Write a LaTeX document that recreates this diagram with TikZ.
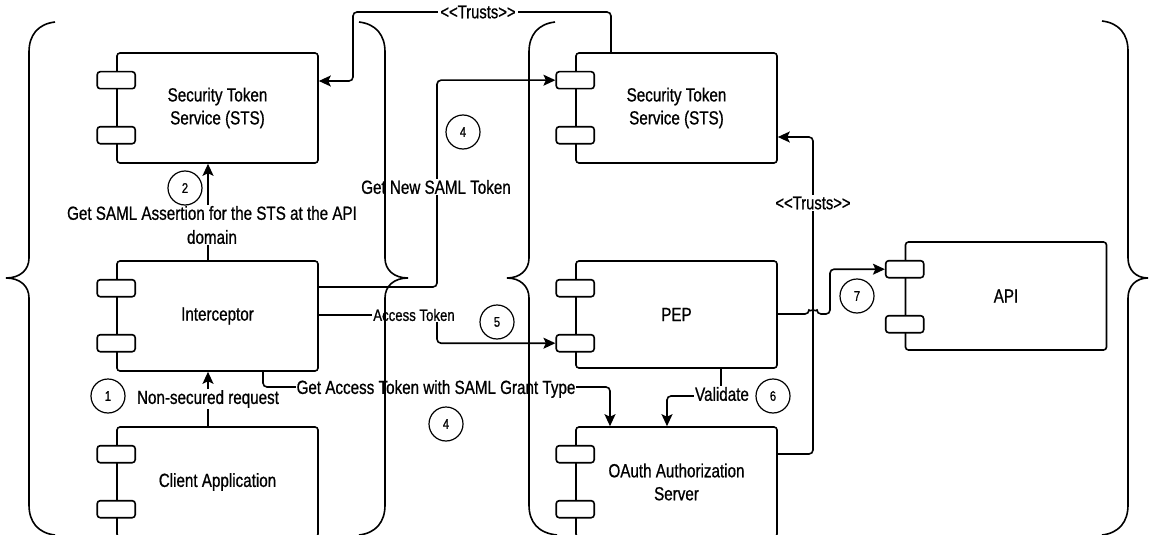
\documentclass[tikz,border=0pt]{standalone}
\usepackage{fontspec}
\setmainfont{Liberation Sans}[FakeStretch=0.8,FakeBold=0.8]
\usetikzlibrary{arrows.meta}
\tikzset{
  comp/.style={draw, line width=1.6pt, rounded corners=3pt, minimum width=201pt, minimum height=110pt, align=center, inner sep=0pt, font=\fontsize{19}{23}\selectfont},
  tabbox/.style={draw, line width=1.6pt, rounded corners=3pt, fill=white, minimum width=38pt, minimum height=17pt, inner sep=0pt},
  conn/.style={line width=1.6pt, rounded corners=4pt, -{Stealth[length=12pt,width=11pt,inset=2.5pt]}},
  lbl/.style={fill=white, inner sep=1pt, align=center, font=\fontsize{19}{24}\selectfont},
  slbl/.style={fill=white, inner sep=1pt, font=\fontsize{16.5}{19}\selectfont},
  tlbl/.style={fill=white, inner sep=2pt, font=\fontsize{18.5}{21}\selectfont},
  numc/.style={circle, draw, line width=1.2pt, minimum size=34pt, inner sep=0pt, font=\fontsize{14}{16}\selectfont},
  bracel/.style={line width=1.6pt},
}
\newcommand{\comptabs}[1]{%
  \node[tabbox] (#1t1) at ([yshift=-28pt]#1.north west) {};
  \node[tabbox] (#1t2) at ([yshift=-83pt]#1.north west) {};
}
\newcommand{\trustlbl}{\textless\kern0pt\textless\kern0pt Trusts\kern0pt\textgreater\kern0pt\textgreater}
\begin{document}
\begin{tikzpicture}[x=1pt,y=-1pt]
\useasboundingbox (0,0) rectangle (1149,535);
\clip (0,0) rectangle (1149,535);
% components
\node[comp] (sts1) at (217.5,108) {Security Token\\Service (STS)};
\node[comp] (inter) at (217.5,316) {Interceptor};
\node[comp] (client) at (217.5,482) {Client Application};
\node[comp] (sts2) at (676.5,108) {Security Token\\Service (STS)};
\node[comp, minimum height=107pt] (pep) at (676.5,314.5) {PEP};
\node[comp] (oauth) at (676.5,482) {OAuth Authorization\\Server};
\node[comp, minimum height=108pt] (api) at (1006,296) {API};
\comptabs{sts1}
\comptabs{inter}
\comptabs{client}
\comptabs{sts2}
\comptabs{pep}
\comptabs{oauth}
\comptabs{api}
% connectors
\draw[conn] ([xshift=-9.5pt]client.north) -- ([xshift=-9.5pt]inter.south) node[lbl,pos=0.5]{Non-secured request};
\draw[conn] ([xshift=-9.5pt]inter.north) -- ([xshift=-9.5pt]sts1.south);
\node[lbl] (l2) at (212,225) {Get SAML Assertion for the STS at the API\\domain};
\draw[conn] (inter.east |- 0,287) -- (437,287) -- (437,0 |- sts2t1.west) -- (sts2t1.west);
\node[lbl] (l3) at (436,187) {Get New SAML Token};
\draw[conn] (inter.east |- 0,315) -- (437,315) -- (437,0 |- pept2.west) -- (pept2.west);
\node[slbl] (l4) at (414,315) {Access Token};
\draw[conn] ([xshift=45.5pt]inter.south) -- (263,387) -- (610,387) -- (610,0 |- oauth.north);
\node[lbl] (l5) at (436,389) {Get Access Token with SAML Grant Type};
\draw[conn] ([xshift=44.5pt]pep.south) -- (721,396) -- (667,396) -- (667,0 |- oauth.north);
\node[lbl] (l6) at (722,394) {Validate};
\draw[conn] (pep.east |- 0,314) -- (809,314) arc[start angle=180, end angle=0, radius=4pt] -- (830,314) -- (830,0 |- apit1.west) -- (apit1.west);
\draw[conn] ([xshift=-65.5pt]sts2.north) -- (611,12) -- (353,12) -- (353,81) -- (sts1.east |- 0,81);
\node[tlbl] (l7) at (478,12) {\trustlbl};
\draw[conn] (oauth.east |- 0,454) -- (813,454) -- (813,137) -- (sts2.east |- 0,137);
\node[tlbl] (l8) at (813,203) {\trustlbl};
% numbers
\node[numc] (c1) at (108,396) {1};
\node[numc] (c2) at (185,188) {2};
\node[numc] (c4a) at (463,132) {4};
\node[numc] (c5) at (497,322) {5};
\node[numc] (c4b) at (446,424) {4};
\node[numc] (c6) at (773,396) {6};
\node[numc] (c7) at (857,296) {7};
% braces
\draw[bracel] (55,22) .. controls (38,24) and (29,35) .. (29,52) -- (29,258) .. controls (29,270) and (20,278) .. (6,278) .. controls (20,278) and (29,286) .. (29,298) -- (29,505) .. controls (29,522) and (38,533) .. (55,535);
\draw[bracel] (359,22) .. controls (376,24) and (385,35) .. (385,52) -- (385,258) .. controls (385,270) and (394,278) .. (408,278) .. controls (394,278) and (385,286) .. (385,298) -- (385,505) .. controls (385,522) and (376,533) .. (359,535);
\draw[bracel] (555,22) .. controls (538,24) and (529,35) .. (529,52) -- (529,258) .. controls (529,270) and (520,278) .. (507,278) .. controls (520,278) and (529,286) .. (529,298) -- (529,505) .. controls (529,522) and (538,533) .. (557,535);
\draw[bracel] (1102,21) .. controls (1119,23) and (1128,34) .. (1128,51) -- (1128,258) .. controls (1128,270) and (1136,278) .. (1148,278) .. controls (1136,278) and (1128,286) .. (1128,298) -- (1128,505) .. controls (1128,522) and (1119,533) .. (1102,535);
\end{tikzpicture}
\end{document}
